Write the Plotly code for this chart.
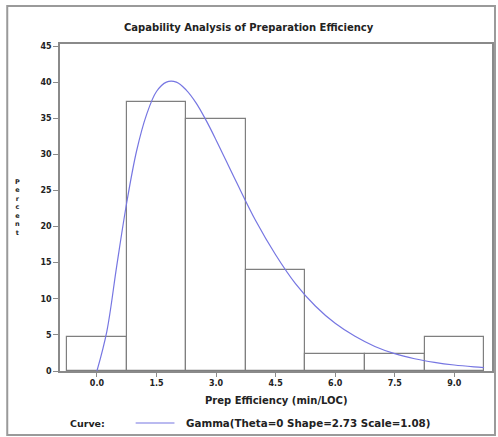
import plotly.graph_objects as go

# Histogram data (percent per bin, bin width 1.5)
bin_mids = [0.0, 1.5, 3.0, 4.5, 6.0, 7.5, 9.0]
bin_pct = [4.65, 37.21, 34.88, 13.95, 2.33, 2.33, 4.65]
bin_width = 1.5

# Fitted gamma curve (percent scale)
curve_x = [0.0, 0.25, 0.5, 0.75, 1.0, 1.25, 1.5, 1.75, 2.0, 2.25, 2.5, 2.75, 3.0,
           3.5, 4.0, 4.5, 5.0, 5.5, 6.0, 6.5, 7.0, 7.5, 8.0, 8.5, 9.0, 9.5, 9.75]
curve_y = [0.0, 5.5, 14.6, 23.3, 30.5, 35.5, 38.7, 40.0, 40.0, 38.9, 37.1, 34.7, 32.0,
           26.3, 20.8, 16.1, 12.1, 9.0, 6.6, 4.8, 3.4, 2.4, 1.7, 1.2, 0.83, 0.57, 0.47]

x_ticks = [0.0, 1.5, 3.0, 4.5, 6.0, 7.5, 9.0]
x_ticktext = ["0.0", "1.5", "3.0", "4.5", "6.0", "7.5", "9.0"]
y_ticks = [0, 5, 10, 15, 20, 25, 30, 35, 40, 45]

title_text = "Capability Analysis of Preparation Efficiency"
xtitle_text = "Prep Efficiency (min/LOC)"
ytitle_text = "Percent"
curve_name = "Gamma(Theta=0 Shape=2.73 Scale=1.08)"

FONT = "DejaVu Sans"
TXT = "#222222"
GRAY = "#8a8a8a"
CURVE = "#7676e2"

fig = go.Figure()
fig.add_trace(go.Bar(
    x=bin_mids, y=bin_pct, width=[bin_width] * len(bin_mids),
    marker=dict(color="white", line=dict(color="#7f7f7f", width=1.2)),
    showlegend=False, hoverinfo="skip"))
fig.add_trace(go.Scatter(
    x=curve_x, y=curve_y, mode="lines", line=dict(color=CURVE, width=1.2, shape="spline"),
    name=curve_name, showlegend=False))

W, H = 498, 437
L, R, T, B = 60, 4, 44, 66
pw = W - L - R
ph = H - T - B

def px(x):
    return (x - L) / pw

def py(y):
    return (H - B - y) / ph

fig.update_layout(
    width=W, height=H,
    margin=dict(l=L, r=R, t=T, b=B),
    paper_bgcolor="white", plot_bgcolor="white",
    font=dict(family=FONT, color=TXT, size=9),
    bargap=0,
    xaxis=dict(range=[-0.93, 9.95], tickvals=x_ticks, ticktext=x_ticktext,
               ticks="outside", ticklen=4, tickcolor=GRAY, showgrid=False, zeroline=False,
               showline=True, linecolor=GRAY, linewidth=1.5, mirror=True,
               tickfont=dict(family=FONT, size=8, color=TXT, weight="bold")),
    yaxis=dict(range=[0, 45.28], tickvals=y_ticks,
               ticks="outside", ticklen=5, tickcolor=GRAY, showgrid=False, zeroline=False,
               showline=True, linecolor=GRAY, linewidth=1.5, mirror=True,
               tickfont=dict(family=FONT, size=8, color=TXT, weight="bold")),
)

def note(text, x, y, size, xanchor="center"):
    return dict(text=text, x=px(x), y=py(y), xref="paper", yref="paper",
                xanchor=xanchor, yanchor="middle", showarrow=False,
                font=dict(family=FONT, size=size, color=TXT, weight="bold"))

ann = [
    note(title_text, 250, 28, 10),
    note(xtitle_text, 277, 400, 10),
    note("<br>".join(list(ytitle_text)), 17, 208, 6.5),
    note("Curve:", 68, 423, 9.5, "left"),
    note(curve_name, 185, 423, 10.3, "left"),
]
fig.update_layout(annotations=ann)

fig.add_shape(type="line", xref="paper", yref="paper", x0=px(136), x1=px(175),
              y0=py(423), y1=py(423), line=dict(color=CURVE, width=1.2))
fig.add_shape(type="rect", xref="paper", yref="paper", x0=px(7), x1=px(497),
              y0=py(435), y1=py(6), line=dict(color="#9a9a9a", width=2), layer="below")

fig.write_html("out.html")
